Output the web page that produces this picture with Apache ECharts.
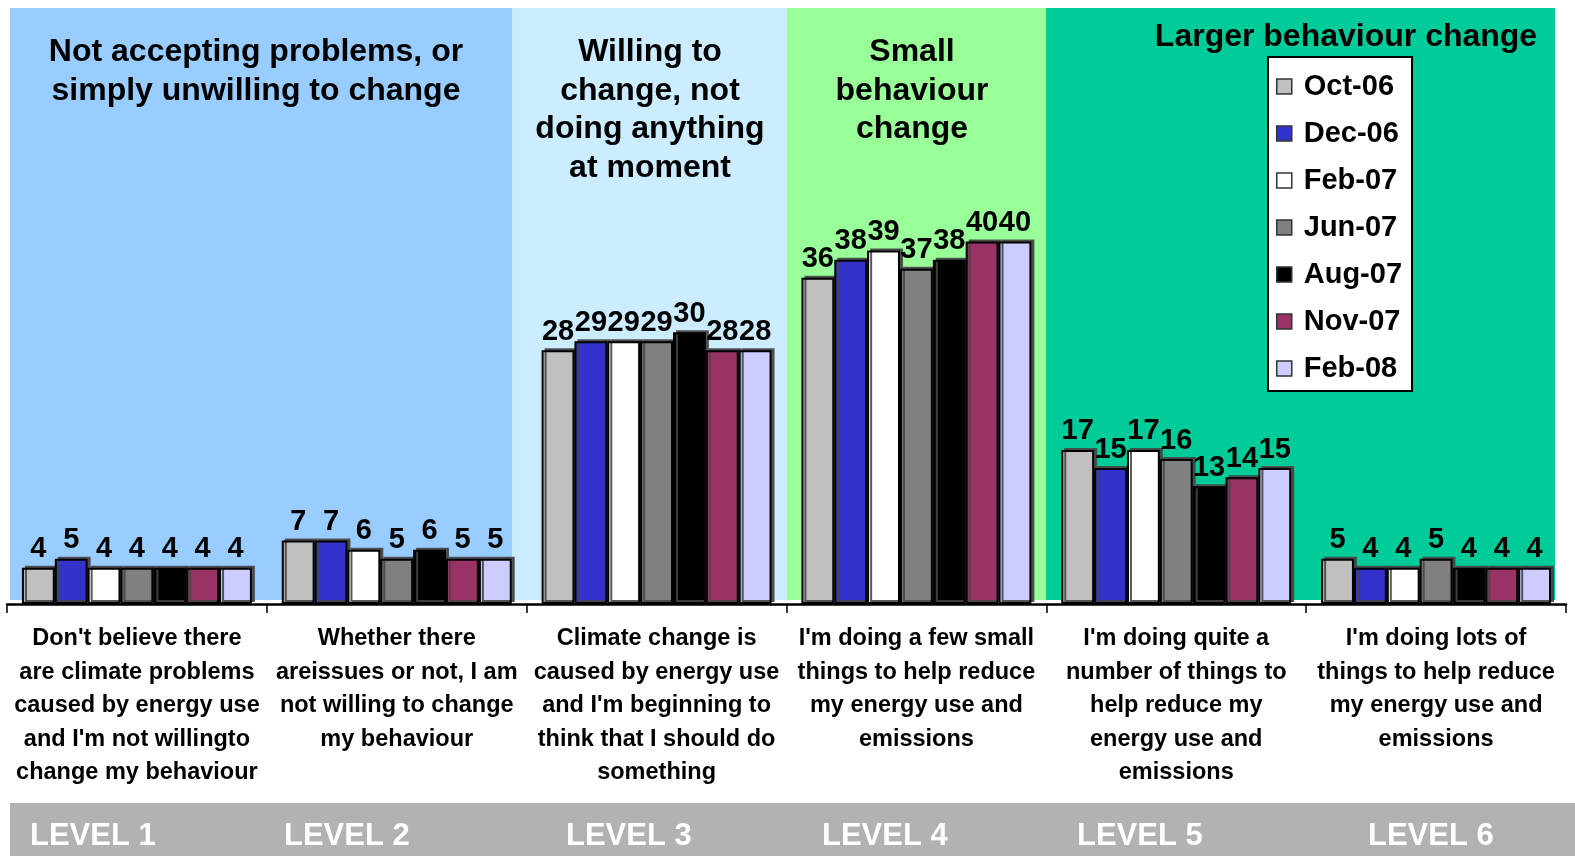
<!DOCTYPE html>
<html>
<head>
<meta charset="utf-8">
<title>Climate change behaviour levels</title>
<script src="https://cdn.jsdelivr.net/npm/echarts@6/dist/echarts.min.js"></script>
<style>
  html, body { margin: 0; padding: 0; background: #ffffff; }
  #chart { width: 1575px; height: 856px; }
</style>
</head>
<body>
<div id="chart"></div>
<script>
// Statements shown under each group of bars
const categories = [
  "Don't believe there\nare climate problems\ncaused by energy use\nand I'm not willingto\nchange my behaviour",
  "Whether there\nareissues or not, I am\nnot willing to change\nmy behaviour",
  "Climate change is\ncaused by energy use\nand I'm beginning to\nthink that I should do\nsomething",
  "I'm doing a few small\nthings to help reduce\nmy energy use and\nemissions",
  "I'm doing quite a\nnumber of things to\nhelp reduce my\nenergy use and\nemissions",
  "I'm doing lots of\nthings to help reduce\nmy energy use and\nemissions"
];

// Survey waves
const waves = ["Oct-06", "Dec-06", "Feb-07", "Jun-07", "Aug-07", "Nov-07", "Feb-08"];

// Percentage of respondents per level, one array per wave
const oct06 = [4, 7, 28, 36, 17, 5];
const dec06 = [5, 7, 29, 38, 15, 4];
const feb07 = [4, 6, 29, 39, 17, 4];
const jun07 = [4, 5, 29, 37, 16, 5];
const aug07 = [4, 6, 30, 38, 13, 4];
const nov07 = [4, 5, 28, 40, 14, 4];
const feb08 = [4, 5, 28, 40, 15, 4];

// Level names along the bottom band
const levels = ["LEVEL 1", "LEVEL 2", "LEVEL 3", "LEVEL 4", "LEVEL 5", "LEVEL 6"];

// Headings of the coloured segments
const segmentTitles = [
  "Not accepting problems, or\nsimply unwilling to change",
  "Willing to\nchange, not\ndoing anything\nat moment",
  "Small\nbehaviour\nchange",
  "Larger behaviour change"
];

const waveValues = [oct06, dec06, feb07, jun07, aug07, nov07, feb08];
const waveColors = ["#C0C0C0", "#3333CC", "#FFFFFF", "#808080", "#000000", "#993366", "#CCCCFF"];

const FONT = "'Liberation Sans', Arial, sans-serif";

const chart = echarts.init(document.getElementById('chart'), null, { renderer: 'canvas' });

// Background segments behind the bars
const segments = [
  { x: 10,   w: 502, color: '#99CCFF' },
  { x: 512,  w: 275, color: '#CCECFF' },
  { x: 787,  w: 259, color: '#99FF99' },
  { x: 1046, w: 509, color: '#00CC99' }
];
const titlePos = [
  { x: 256,  y: 33 },
  { x: 650,  y: 33 },
  { x: 912,  y: 33 },
  { x: 1346, y: 18 }
];
const levelX = [30, 284, 566, 822, 1077, 1368];

const graphic = [];
segments.forEach(function (s) {
  graphic.push({
    type: 'rect', z: -10, silent: true,
    shape: { x: s.x, y: 8, width: s.w, height: 592 },
    style: { fill: s.color }
  });
});
segmentTitles.forEach(function (t, i) {
  graphic.push({
    type: 'text', z: -5, silent: true,
    x: titlePos[i].x, y: titlePos[i].y,
    style: {
      text: t, fill: '#000', font: 'bold 32px ' + FONT,
      align: 'center', verticalAlign: 'top', lineHeight: 38.5
    }
  });
});
graphic.push({
  type: 'rect', z: -10, silent: true,
  shape: { x: 10, y: 803, width: 1565, height: 53 },
  style: { fill: '#B2B2B2' }
});
levels.forEach(function (t, i) {
  graphic.push({
    type: 'text', silent: true,
    x: levelX[i], y: 836,
    style: {
      text: t, fill: '#FFFFFF', font: 'bold 31px ' + FONT,
      align: 'left', verticalAlign: 'middle'
    }
  });
});

const series = waves.map(function (name, i) {
  return {
    name: name,
    type: 'bar',
    data: waveValues[i],
    barGap: '0%',
    barCategoryGap: '11.5%',
    itemStyle: {
      color: waveColors[i],
      borderColor: '#000000',
      borderWidth: 2,
      shadowColor: 'rgba(70,70,70,0.9)',
      shadowOffsetX: 3,
      shadowOffsetY: -2,
      shadowBlur: 0
    },
    label: {
      show: true,
      position: 'top',
      distance: 4,
      color: '#000000',
      fontFamily: FONT,
      fontWeight: 'bold',
      fontSize: 29
    },
    emphasis: { disabled: true }
  };
});

chart.setOption({
  animation: false,
  backgroundColor: '#FFFFFF',
  textStyle: { fontFamily: FONT },
  graphic: graphic,
  legend: {
    orient: 'vertical',
    left: 1268,
    top: 57,
    data: waves,
    icon: 'rect',
    itemWidth: 15,
    itemHeight: 15,
    itemGap: 18,
    padding: [15, 10, 8, 8],
    backgroundColor: '#FFFFFF',
    borderColor: '#000000',
    borderWidth: 2,
    itemStyle: { borderColor: '#333333', borderWidth: 1.5, shadowColor: 'transparent' },
    textStyle: {
      fontFamily: FONT, fontWeight: 'bold', fontSize: 29, color: '#000000', padding: [0, 0, 0, 7]
    }
  },
  grid: { left: 7, right: 9, top: 15, bottom: 252, containLabel: false },
  xAxis: {
    type: 'category',
    data: categories,
    axisLine: { show: true, lineStyle: { color: '#000000', width: 2.5 } },
    axisTick: { show: true, length: 9, lineStyle: { color: '#000000', width: 1.5 } },
    axisLabel: {
      interval: 0,
      margin: 18,
      color: '#000000',
      fontFamily: FONT,
      fontWeight: 'bold',
      fontSize: 23.5,
      lineHeight: 33.5,
      align: 'center'
    }
  },
  yAxis: {
    type: 'value',
    min: 0,
    max: 65,
    show: false,
    splitLine: { show: false }
  },
  series: series
});
</script>
</body>
</html>
